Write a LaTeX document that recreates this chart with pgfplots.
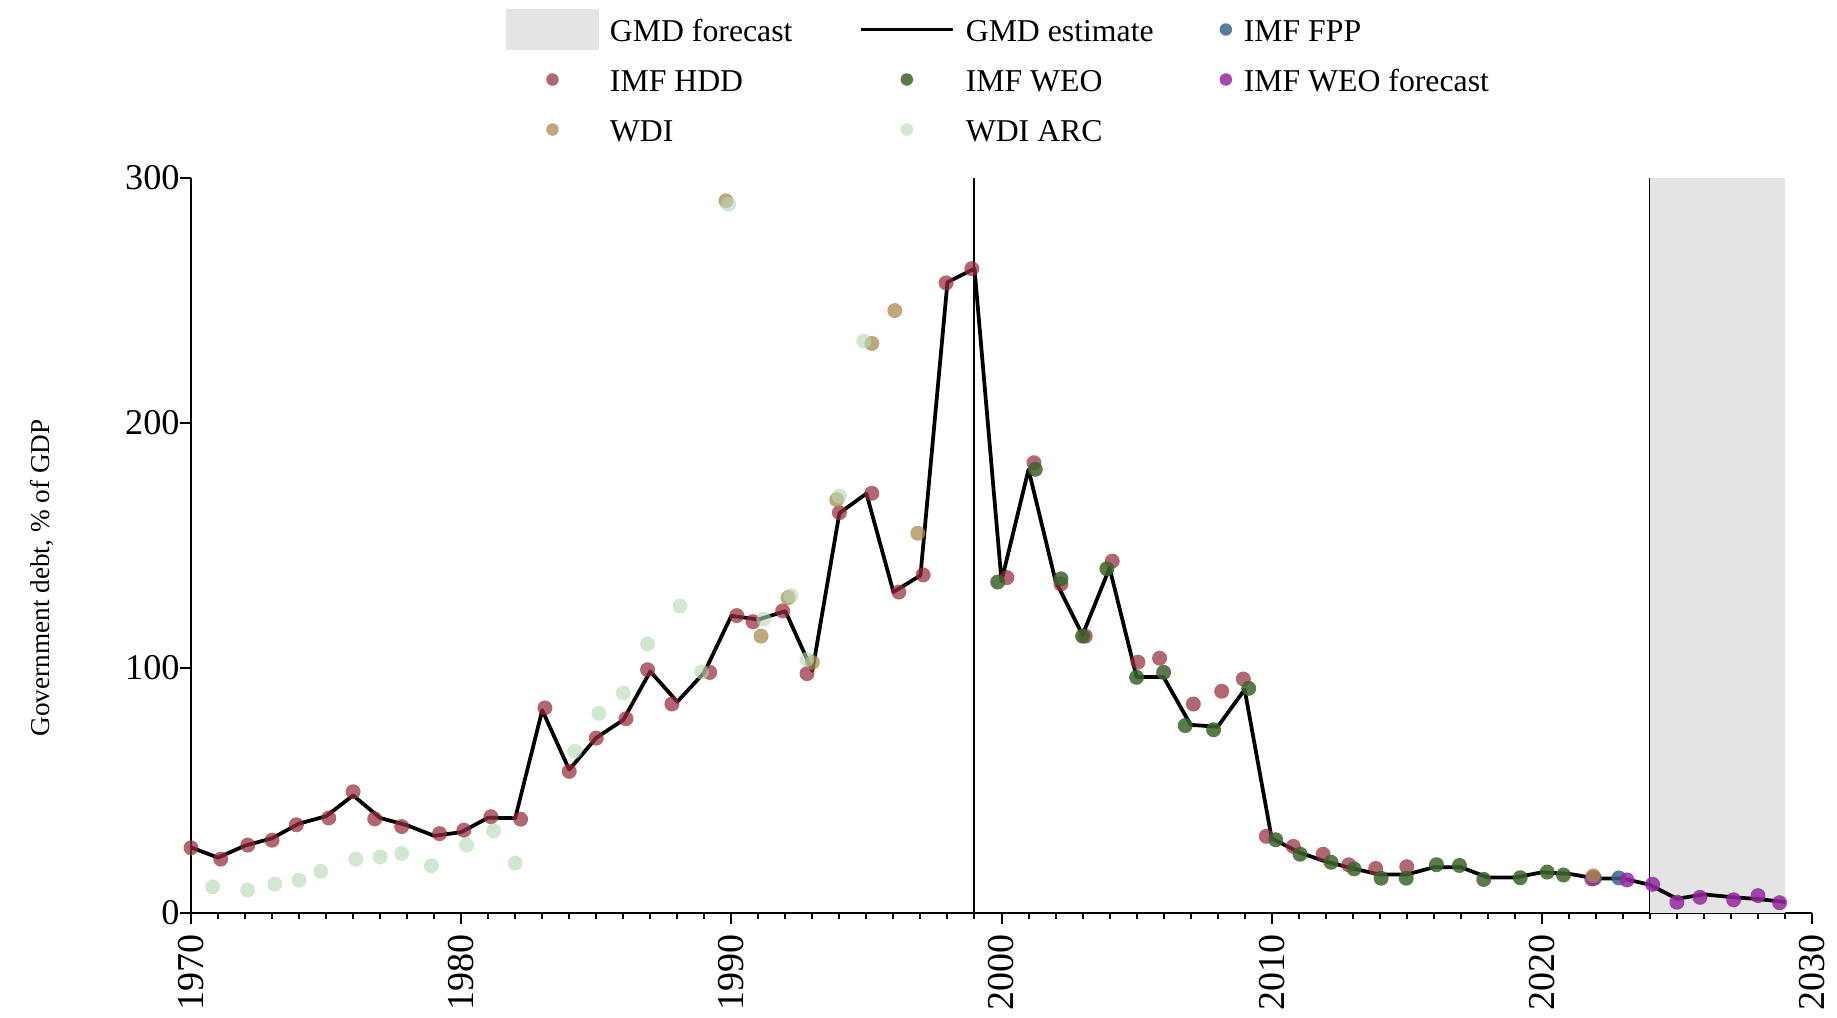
\documentclass[border=0pt]{standalone}
\usepackage{fontspec}
\setmainfont{Liberation Serif}
\usepackage{pgfplots}
\pgfplotsset{compat=1.18}
\definecolor{shadecol}{RGB}{228,228,228}
\definecolor{hdd}{RGB}{150,45,60}
\definecolor{weo}{RGB}{60,100,45}
\definecolor{fpp}{RGB}{60,100,140}
\definecolor{weof}{RGB}{150,40,160}
\definecolor{wdi}{RGB}{170,140,80}
\definecolor{arc}{RGB}{180,215,180}
\begin{document}
\begin{tikzpicture}
\path[use as bounding box] (-76.4pt,-41.6pt) rectangle (658.4pt,365.2pt);
\begin{axis}[
  scale only axis, width=648.4pt, height=294pt,
  at={(0pt,0pt)}, anchor=south west,
  clip=false,
  xmin=1970, xmax=2030, ymin=0, ymax=300,
  axis x line*=bottom, axis y line*=left,
  axis line style={line width=0.8pt, -},
  xtick={1970,1980,...,2030}, minor x tick num=9,
  ytick={0,100,200,300},
  tick align=outside,
  major tick length=4.4pt, minor tick length=2.4pt,
  every tick/.style={black, line width=0.8pt},
  /pgf/number format/1000 sep={},
  /pgf/number format/assume math mode=true,
  xticklabel style={yshift=-4pt, rotate=90, anchor=east, inner sep=0pt, font=\fontsize{15.2}{17}\selectfont},
  yticklabel style={inner sep=0pt, font=\fontsize{14.5}{16}\selectfont},
  ylabel={Government debt, \% of GDP},
  ylabel style={font=\fontsize{10.9}{12}\selectfont, at={(axis description cs:-0.0919,0.4558)}, anchor=center, rotate=0},
  legend columns=3,
  legend cell align=left,
  legend style={at={(0.1943,1.2299)}, anchor=north west, draw=none, fill=none,
    inner sep=0pt, outer sep=0pt, column sep=0pt, row sep=3.6pt,
    font=\fontsize{12.7}{14}\selectfont,
    nodes={inner sep=0pt, text height=9.8pt, text depth=0pt}},
  scatter/.style={only marks, mark=*, mark size=3pt},
]
% GMD forecast shade
\addplot[fill=shadecol, draw=none,
  legend image code/.code={\fill[shadecol] (0pt,-8.2pt) rectangle (37.2pt,8.2pt); \path[draw=none,fill=none] (0pt,0pt) -- (41.6pt,0pt);}]
  coordinates {(2024,300) (2029,300)} \closedcycle;
\addlegendentry{\makebox[99.6pt][l]{GMD forecast}}
\addplot[black, line width=0.8pt, forget plot] coordinates {(1999,0) (1999,300)};
\addplot[black, line width=0.4pt, forget plot] coordinates {(2024,0) (2024,300)};
% GMD estimate
\addplot[black, line width=1.5pt, line join=round, mark=none,
  legend image code/.code={\path[draw=none,fill=none] (0pt,-8.2pt) rectangle (42pt,8.2pt); \draw[black, line width=1.5pt] (0pt,0pt) -- (36.8pt,0pt);}]
  table {
1970 26.8
1971 22.6
1972 27.5
1973 30.5
1974 36.5
1975 39.5
1976 48.0
1977 38.8
1978 35.8
1979 31.5
1980 33.0
1981 38.9
1982 38.7
1983 82.8
1984 58.5
1985 71.5
1986 78.8
1987 98.6
1988 86.2
1989 98.2
1990 121.3
1991 119.8
1992 123.2
1993 98.8
1994 163.2
1995 171.2
1996 131.0
1997 137.8
1998 257.5
1999 263.0
2000 135.5
2001 181.0
2002 135.5
2003 113.5
2004 140.8
2005 96.3
2006 96.3
2007 76.8
2008 76.0
2009 91.2
2010 30.5
2011 24.8
2012 21.0
2013 18.2
2014 15.7
2015 15.7
2016 18.7
2017 18.7
2018 14.5
2019 14.5
2020 16.6
2021 16.0
2022 14.1
2023 14.1
2024 11.5
2025 5.8
2026 7.6
2027 6.5
2028 5.7
2029 4.5
};
\addlegendentry{\makebox[96.8pt][l]{GMD estimate}}
% IMF FPP
\addplot[scatter, color=fpp, mark options={fill=fpp, fill opacity=0.85, draw opacity=0},
  legend image code/.code={\path[draw=none,fill=none] (0pt,-8.2pt) rectangle (14.4pt,8.2pt); \fill[fpp, fill opacity=0.85, draw=none] (7.2pt,0pt) circle (2.5pt);}]
  table {
2021.95 14.2
2022.85 14.3
};
\addlegendentry{IMF FPP}
% IMF HDD
\addplot[scatter, color=hdd, mark options={fill=hdd, fill opacity=0.72, draw opacity=0},
  legend image code/.code={\path[draw=none,fill=none] (0pt,-8.2pt) rectangle (41.6pt,8.2pt); \fill[hdd, fill opacity=0.72, draw=none] (18.6pt,0pt) circle (2.5pt);}]
  table {
1970.0 26.6
1971.1 22.0
1972.1 27.7
1973.0 29.7
1973.9 36.0
1975.1 38.8
1976.0 49.5
1976.8 38.4
1977.8 35.3
1979.2 32.4
1980.1 33.8
1981.1 39.3
1982.2 38.3
1983.1 83.7
1984.0 57.8
1985.0 71.4
1986.1 79.3
1986.9 99.3
1987.8 85.3
1989.2 98.2
1990.2 121.4
1990.8 118.9
1991.9 123.3
1992.8 97.7
1994.0 163.4
1995.2 171.3
1996.2 131.0
1997.1 138.0
1997.95 257.2
1998.9 263.0
2000.2 136.9
2001.2 183.8
2002.2 134.3
2003.1 113.0
2004.1 143.6
2005.05 102.4
2005.85 104.0
2007.1 85.3
2008.15 90.5
2008.95 95.5
2009.8 31.3
2010.8 27.2
2011.9 24.0
2012.85 19.7
2013.85 18.2
2015.0 18.9
2021.9 14.6
};
\addlegendentry{\makebox[99.6pt][l]{IMF HDD}}
% IMF WEO
\addplot[scatter, color=weo, mark options={fill=weo, fill opacity=0.85, draw opacity=0},
  legend image code/.code={\path[draw=none,fill=none] (0pt,-8.2pt) rectangle (42pt,8.2pt); \fill[weo, fill opacity=0.85, draw=none] (18.4pt,0pt) circle (2.5pt);}]
  table {
1999.86 135.1
2001.25 181.1
2002.2 136.4
2003.0 113.0
2003.9 140.5
2005.0 96.2
2006.0 98.2
2006.8 76.5
2007.85 74.8
2009.15 91.7
2010.15 29.9
2011.05 24.0
2012.2 20.7
2013.05 18.0
2014.05 14.2
2014.98 14.2
2016.1 19.7
2016.95 19.4
2017.85 13.7
2019.2 14.4
2020.2 16.7
2020.8 15.5
};
\addlegendentry{\makebox[96.8pt][l]{IMF WEO}}
% IMF WEO forecast
\addplot[scatter, color=weof, mark options={fill=weof, fill opacity=0.85, draw opacity=0},
  legend image code/.code={\path[draw=none,fill=none] (0pt,-8.2pt) rectangle (14.4pt,8.2pt); \fill[weof, fill opacity=0.85, draw=none] (7.2pt,0pt) circle (2.5pt);}]
  table {
2021.85 13.9
2023.15 13.5
2024.1 11.7
2025.0 4.4
2025.85 6.4
2027.1 5.4
2028.0 7.1
2028.8 4.2
};
\addlegendentry{IMF WEO forecast}
% WDI
\addplot[scatter, color=wdi, mark options={fill=wdi, fill opacity=0.75, draw opacity=0},
  legend image code/.code={\path[draw=none,fill=none] (0pt,-8.2pt) rectangle (41.6pt,8.2pt); \fill[wdi, fill opacity=0.75, draw=none] (18.6pt,0pt) circle (2.5pt);}]
  table {
1989.8 290.7
1991.1 113.0
1992.1 128.7
1993.0 102.3
1993.9 168.7
1995.2 232.5
1996.05 245.9
1996.9 155.0
2021.9 15.2
};
\addlegendentry{\makebox[99.6pt][l]{WDI}}
% WDI ARC
\addplot[scatter, color=arc, mark options={fill=arc, fill opacity=0.6, draw opacity=0},
  legend image code/.code={\path[draw=none,fill=none] (0pt,-8.2pt) rectangle (42pt,8.2pt); \fill[arc, fill opacity=0.6, draw=none] (18.4pt,0pt) circle (2.5pt);}]
  table {
1970.8 10.7
1972.1 9.4
1973.1 11.8
1974.0 13.4
1974.8 17.0
1976.1 22.0
1977.0 22.9
1977.8 24.3
1978.9 19.3
1980.2 27.7
1981.2 33.5
1982.0 20.4
1984.2 66.0
1985.1 81.5
1986.0 89.8
1986.9 109.8
1988.1 125.3
1988.9 98.4
1989.9 289.3
1991.2 120.0
1992.2 129.5
1992.8 103.5
1994.0 170.2
1994.9 233.4
};
\addlegendentry{WDI ARC}
\end{axis}
\end{tikzpicture}
\end{document}
